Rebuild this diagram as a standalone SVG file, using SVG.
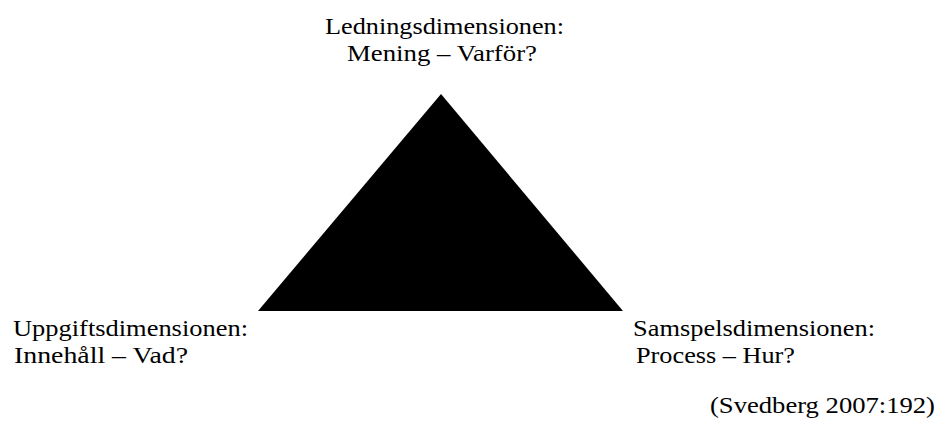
<svg xmlns="http://www.w3.org/2000/svg" width="938" height="430" viewBox="0 0 938 430">
<style>
text{font-family:"Liberation Serif","Times New Roman",Times,serif;font-size:23px;fill:#000}
</style>
<rect width="938" height="430" fill="#fff"/>
<g id="triangle"><polygon points="441,94 258,311 623,311" fill="#000"/></g>
<g id="top">
<text x="325" y="34" textLength="239" lengthAdjust="spacingAndGlyphs">Ledningsdimensionen:</text>
<text x="347" y="61" textLength="190" lengthAdjust="spacingAndGlyphs">Mening – Varför?</text>
</g>
<g id="left">
<text x="13" y="336" textLength="235" lengthAdjust="spacingAndGlyphs">Uppgiftsdimensionen:</text>
<text x="14" y="363" textLength="174" lengthAdjust="spacingAndGlyphs">Innehåll – Vad?</text>
</g>
<g id="right">
<text x="633" y="336" textLength="242" lengthAdjust="spacingAndGlyphs">Samspelsdimensionen:</text>
<text x="636" y="363" textLength="159" lengthAdjust="spacingAndGlyphs">Process – Hur?</text>
</g>
<g id="source">
<text x="710" y="413" textLength="225" lengthAdjust="spacingAndGlyphs">(Svedberg 2007:192)</text>
</g>
</svg>
